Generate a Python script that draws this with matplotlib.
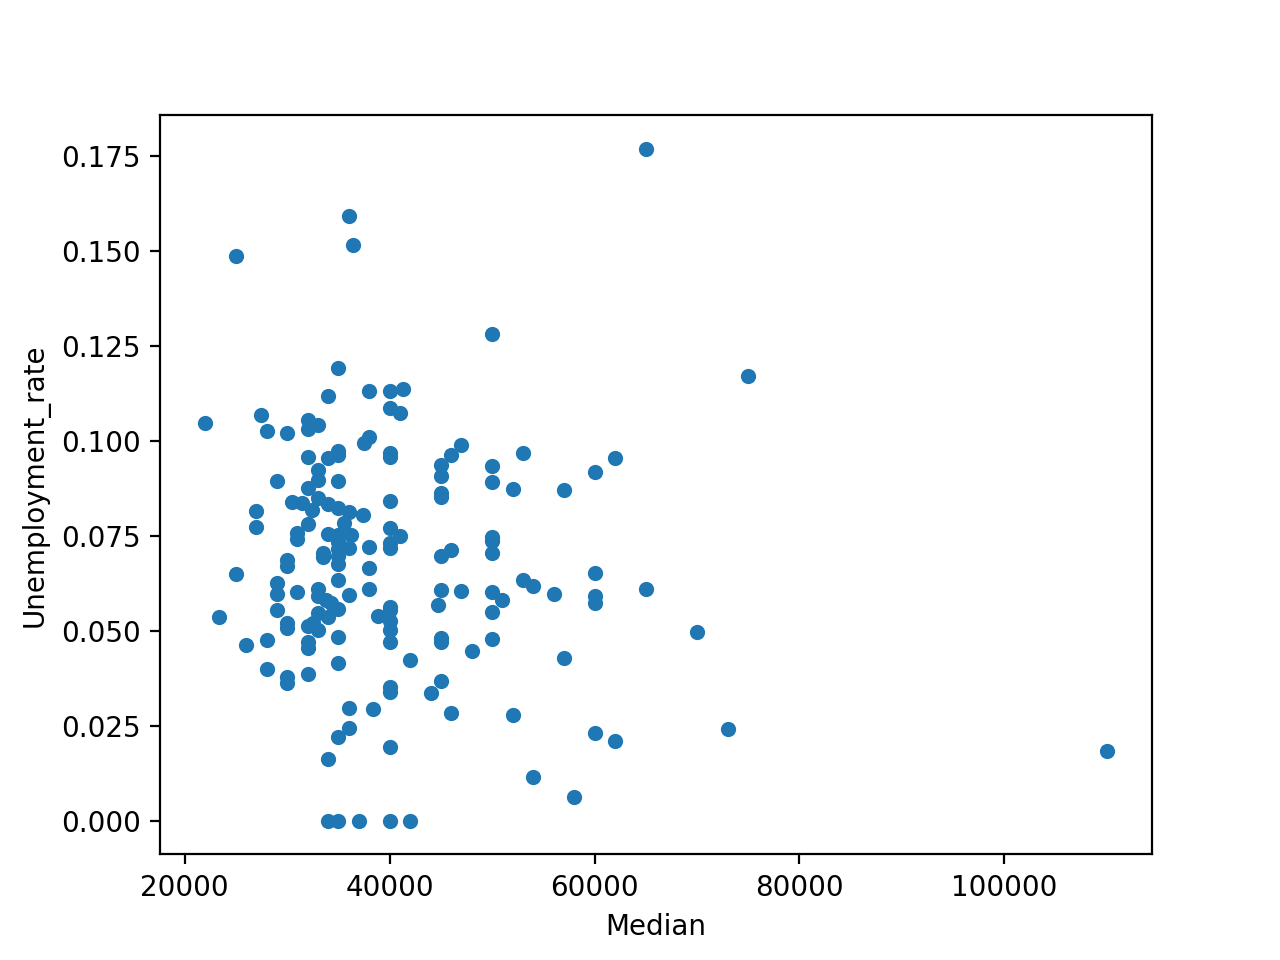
import matplotlib
matplotlib.use("Agg")
import matplotlib.pyplot as plt
import pandas as pd

# Median salary of each major
median = [
    34000, 38000, 22000, 27500, 28000, 30000, 32000, 33000, 32000, 38000,
    37500, 32000, 34000, 35000, 35000, 33000, 33000, 29000, 35000, 32000,
    30500, 31500, 33000, 32400, 34000, 35000, 36000, 37400, 27000, 27000,
    32000, 31000, 31000, 34000, 35600, 35000, 36200,
    35000, 35000, 35000, 35000, 35000, 36000, 38000, 33500, 33500, 30000,
    30000, 38000, 25000, 29000, 29000, 31000, 33000, 33000, 33800, 34300,
    35000, 36000, 38000, 29000, 33000, 34000, 23400, 30000, 30000, 32000,
    32500, 33000, 28000, 26000, 32000, 32000, 35000, 35000, 28000, 30000,
    30000, 32000,
    36000, 36000, 35000, 34000, 34000, 35000, 37000,
    50000, 40000, 41300, 40000, 41000, 40000, 40000, 45000, 45000, 46000,
    47000, 45000, 45000, 50000, 50000, 53000, 52000, 40000, 40000, 41000,
    50000, 50000,
    40000, 40000, 45000, 46000, 50000, 45000, 47000, 50000, 51000, 53000,
    54000, 44700, 50000, 40000, 40000, 38900, 40000, 40000, 40000, 45000,
    45000, 50000, 48000, 42000,
    40000, 40000, 45000, 44000, 38400, 46000, 52000, 40000, 54000, 40000,
    42000,
    62000, 60000, 57000, 60000, 56000, 60000, 60000, 65000,
    70000, 57000, 60000, 62000, 73000, 58000,
    36000, 36400, 25000, 35000,
    65000, 75000, 110000,
]

# Unemployment rate of each major, same order as median
unemployment_rate = [
    0.1119, 0.1133, 0.1047, 0.1069, 0.1027, 0.1021, 0.1056, 0.1043, 0.1032, 0.1012,
    0.0995, 0.0958, 0.0955, 0.0973, 0.0964, 0.0924, 0.0898, 0.0895, 0.0895, 0.0876,
    0.0839, 0.0837, 0.0850, 0.0819, 0.0835, 0.0823, 0.0814, 0.0806, 0.0816, 0.0773,
    0.0782, 0.0758, 0.0742, 0.0756, 0.0784, 0.0753, 0.0753,
    0.0735, 0.0716, 0.0698, 0.0677, 0.0635, 0.0718, 0.0722, 0.0706, 0.0696, 0.0687,
    0.0670, 0.0665, 0.0650, 0.0627, 0.0598, 0.0602, 0.0610, 0.0591, 0.0582, 0.0573,
    0.0557, 0.0595, 0.0610, 0.0555, 0.0547, 0.0538, 0.0536, 0.0520, 0.0507, 0.0513,
    0.0522, 0.0503, 0.0476, 0.0463, 0.0472, 0.0455, 0.0484, 0.0415, 0.0399, 0.0380,
    0.0364, 0.0387,
    0.0296, 0.0244, 0.0222, 0.0162, 0.0, 0.0, 0.0,
    0.1282, 0.1133, 0.1138, 0.1087, 0.1074, 0.0969, 0.0959, 0.0936, 0.0909, 0.0964,
    0.0990, 0.0864, 0.0853, 0.0935, 0.0892, 0.0968, 0.0874, 0.0843, 0.0771, 0.0749,
    0.0748, 0.0737,
    0.0732, 0.0719, 0.0698, 0.0712, 0.0705, 0.0608, 0.0606, 0.0602, 0.0582, 0.0633,
    0.0619, 0.0569, 0.0551, 0.0564, 0.0554, 0.0540, 0.0525, 0.0503, 0.0472, 0.0481,
    0.0472, 0.0478, 0.0447, 0.0424,
    0.0353, 0.0338, 0.0367, 0.0336, 0.0294, 0.0283, 0.0279, 0.0195, 0.0116, 0.0,
    0.0,
    0.0955, 0.0918, 0.0872, 0.0652, 0.0598, 0.0592, 0.0573, 0.0610,
    0.0498, 0.0428, 0.0231, 0.0210, 0.0241, 0.0062,
    0.1592, 0.1516, 0.1488, 0.1192,
    0.1770, 0.1172, 0.0184,
]

df = pd.DataFrame({"Median": median, "Unemployment_rate": unemployment_rate})

ax = df.plot(kind="scatter", x="Median", y="Unemployment_rate")

plt.savefig("out.png", dpi=200)
plt.close()
